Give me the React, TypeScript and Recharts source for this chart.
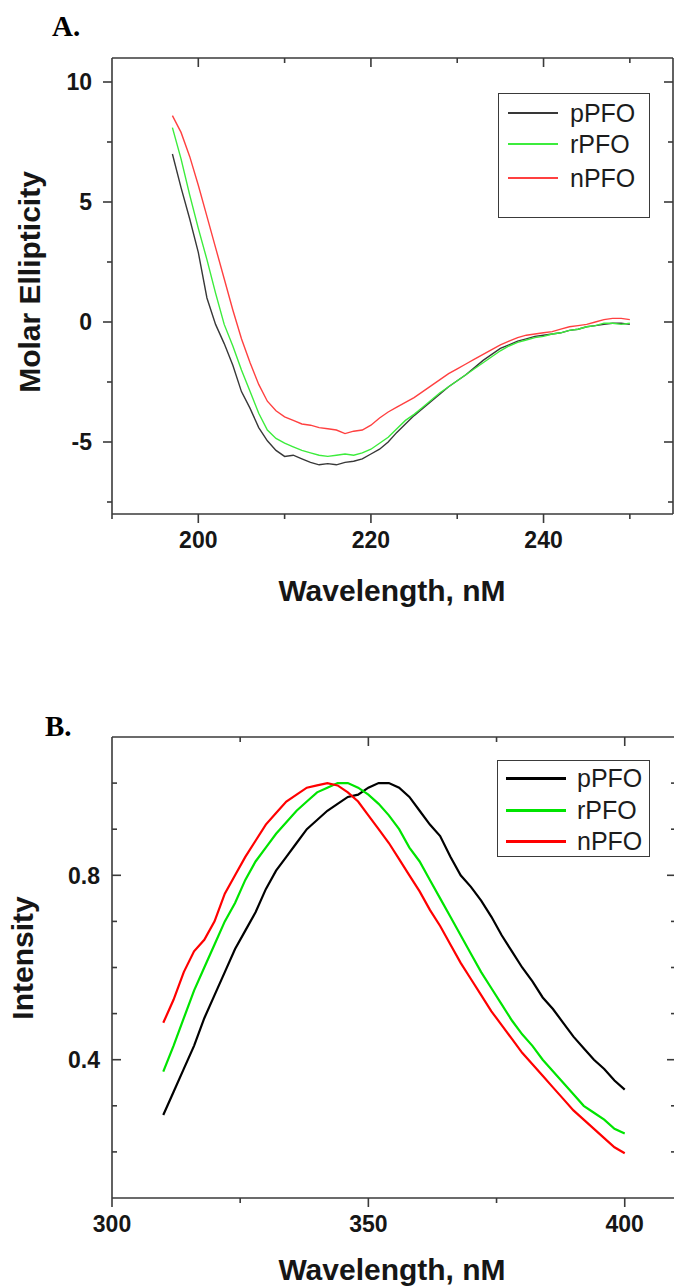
import React from 'react';
import { LineChart, Line, XAxis, YAxis, Legend } from 'recharts';

// ---------- Panel A: CD spectra ----------
const cdWavelengths = [197,198,199,200,201,202,203,204,205,206,207,208,209,210,211,212,213,214,215,216,217,218,219,220,221,222,223,224,225,226,227,228,229,230,231,232,233,234,235,236,237,238,239,240,241,242,243,244,245,246,247,248,249,250];
const cdPPFO = [7.0,5.6,4.3,2.9,1.0,-0.1,-0.9,-1.8,-2.9,-3.6,-4.4,-4.95,-5.35,-5.6,-5.55,-5.7,-5.85,-5.95,-5.9,-5.95,-5.85,-5.8,-5.7,-5.5,-5.3,-5.0,-4.6,-4.25,-3.9,-3.6,-3.3,-3.0,-2.7,-2.45,-2.2,-1.9,-1.6,-1.35,-1.1,-0.95,-0.8,-0.7,-0.6,-0.55,-0.5,-0.45,-0.35,-0.3,-0.2,-0.15,-0.1,-0.05,-0.05,-0.1];
const cdRPFO = [8.1,6.8,5.3,3.9,2.6,1.2,-0.1,-1.0,-2.0,-2.9,-3.8,-4.5,-4.85,-5.05,-5.2,-5.35,-5.45,-5.55,-5.6,-5.55,-5.5,-5.55,-5.45,-5.3,-5.05,-4.8,-4.45,-4.1,-3.85,-3.55,-3.25,-2.95,-2.7,-2.45,-2.2,-1.95,-1.7,-1.45,-1.2,-1.0,-0.85,-0.75,-0.65,-0.6,-0.5,-0.45,-0.35,-0.3,-0.2,-0.15,-0.05,-0.05,-0.1,-0.05];
const cdNPFO = [8.6,7.9,6.9,5.7,4.4,3.1,1.8,0.5,-0.7,-1.7,-2.6,-3.3,-3.7,-3.95,-4.1,-4.25,-4.3,-4.4,-4.45,-4.5,-4.65,-4.55,-4.5,-4.3,-4.0,-3.75,-3.55,-3.35,-3.15,-2.9,-2.65,-2.4,-2.15,-1.95,-1.75,-1.55,-1.35,-1.15,-0.95,-0.8,-0.65,-0.55,-0.5,-0.45,-0.4,-0.3,-0.2,-0.15,-0.1,0.0,0.1,0.15,0.15,0.1];
const cdXTicks = [190,200,210,220,230,240,250];
const cdXLabels = [200,220,240];
const cdYTicks = [-7.5,-5,-2.5,0,2.5,5,7.5,10];
const cdYLabels = [-5,0,5,10];

// ---------- Panel B: fluorescence spectra ----------
const flWavelengths = [310,312,314,316,318,320,322,324,326,328,330,332,334,336,338,340,342,344,346,348,350,352,354,356,358,360,362,364,366,368,370,372,374,376,378,380,382,384,386,388,390,392,394,396,398,400];
const flPPFO = [0.28,0.33,0.38,0.43,0.49,0.54,0.59,0.64,0.68,0.72,0.77,0.81,0.84,0.87,0.90,0.92,0.94,0.955,0.97,0.975,0.99,1.0,1.0,0.99,0.97,0.94,0.91,0.885,0.84,0.80,0.775,0.745,0.71,0.67,0.635,0.60,0.57,0.535,0.51,0.48,0.45,0.425,0.40,0.38,0.355,0.335];
const flRPFO = [0.374,0.43,0.49,0.55,0.60,0.65,0.70,0.74,0.79,0.83,0.86,0.89,0.915,0.94,0.96,0.98,0.99,1.0,1.0,0.99,0.975,0.955,0.93,0.90,0.86,0.83,0.79,0.75,0.71,0.67,0.63,0.59,0.555,0.52,0.485,0.455,0.43,0.40,0.375,0.35,0.325,0.30,0.285,0.27,0.25,0.24];
const flNPFO = [0.48,0.53,0.59,0.635,0.66,0.70,0.76,0.80,0.84,0.875,0.91,0.935,0.96,0.975,0.99,0.995,1.0,0.995,0.98,0.96,0.93,0.90,0.87,0.835,0.80,0.765,0.725,0.69,0.65,0.61,0.575,0.54,0.505,0.475,0.445,0.415,0.39,0.365,0.34,0.315,0.29,0.27,0.25,0.23,0.21,0.197];
const flXTicks = [300,325,350,375,400];
const flXLabels = [300,350,400];
const flYTicks = [0.2,0.3,0.4,0.5,0.6,0.7,0.8,0.9,1.0];
const flYLabels = [0.4,0.8];

const seriesNames = ['pPFO', 'rPFO', 'nPFO'];
const cdColors = ['#383838', '#3cec3c', '#ff4040'];
const flColors = ['#000000', '#00e400', '#ff0000'];

const cdData = cdWavelengths.map((w, i) => ({ w, p: cdPPFO[i], r: cdRPFO[i], n: cdNPFO[i] }));
const flData = flWavelengths.map((w, i) => ({ w, p: flPPFO[i], r: flRPFO[i], n: flNPFO[i] }));

const AXIS = '#3a3a3a';
const axisStyle = { stroke: AXIS, strokeWidth: 1.6 };
const SANS = '"Liberation Sans", Arial, Helvetica, sans-serif';
const SERIF = '"Liberation Serif", "Times New Roman", serif';

type Side = 'left' | 'right' | 'top' | 'bottom';

function makeTick(side: Side, labels: number[], outward: boolean, labelGap: number, fmt: (v: number) => string) {
  return function TickMark(props: any) {
    const { x, y, payload } = props;
    const v = Number(payload.value);
    const major = labels.some((l) => Math.abs(l - v) < 1e-9);
    const len = major ? 9 : 5;
    const s = outward ? 1 : -1;
    let x2 = x;
    let y2 = y;
    if (side === 'left') x2 = x - s * len;
    if (side === 'right') x2 = x + s * len;
    if (side === 'top') y2 = y - s * len;
    if (side === 'bottom') y2 = y + s * len;
    let label: React.ReactNode = null;
    if (major && labelGap > 0) {
      const common = {
        fontFamily: SANS,
        fontWeight: 700,
        fontSize: 23,
        fill: '#161616',
      };
      if (side === 'left') {
        label = (
          <text x={x - labelGap} y={y} dy="0.36em" textAnchor="end" {...common}>
            {fmt(v)}
          </text>
        );
      } else if (side === 'bottom') {
        label = (
          <text x={x} y={y + labelGap} dy="0.36em" textAnchor="middle" {...common}>
            {fmt(v)}
          </text>
        );
      }
    }
    return (
      <g>
        <line x1={x} y1={y} x2={x2} y2={y2} stroke={AXIS} strokeWidth={1.6} />
        {label}
      </g>
    );
  };
}

type LegendCfg = {
  w: number;
  h: number;
  rows: number[];
  lineX: number;
  lineLen: number;
  lineW: number;
  textX: number;
  fontSize: number;
};

function makeLegend(cfg: LegendCfg) {
  return function LegendBox(props: any) {
    const payload: any[] = props.payload || [];
    const items = seriesNames
      .map((n) => payload.find((p: any) => p.value === n))
      .filter(Boolean);
    return (
      <div
        style={{
          position: 'relative',
          boxSizing: 'border-box',
          width: cfg.w,
          height: cfg.h,
          border: `1.5px solid ${AXIS}`,
          background: '#fff',
        }}
      >
        {items.map((it: any, i: number) => (
          <React.Fragment key={it.value}>
            <div
              style={{
                position: 'absolute',
                left: cfg.lineX,
                top: cfg.rows[i] - cfg.lineW / 2,
                width: cfg.lineLen,
                height: cfg.lineW,
                background: it.color,
              }}
            />
            <div
              style={{
                position: 'absolute',
                left: cfg.textX,
                top: cfg.rows[i],
                transform: 'translateY(-50%)',
                fontFamily: SANS,
                fontSize: cfg.fontSize,
                lineHeight: 1,
                color: '#1c1c1c',
                whiteSpace: 'nowrap',
              }}
            >
              {it.value}
            </div>
          </React.Fragment>
        ))}
      </div>
    );
  };
}

const LegendA = makeLegend({ w: 152, h: 125, rows: [19, 50, 84], lineX: 9, lineLen: 50, lineW: 2, textX: 71, fontSize: 25 });
const LegendB = makeLegend({ w: 153, h: 97, rows: [17, 49, 80], lineX: 8, lineLen: 60, lineW: 3, textX: 79, fontSize: 25 });

const fmtInt = (v: number) => String(v);
const fmt1 = (v: number) => v.toFixed(1);

const titleStyle: React.CSSProperties = {
  position: 'absolute',
  fontFamily: SANS,
  fontWeight: 700,
  fontSize: 30,
  lineHeight: 1,
  color: '#161616',
  whiteSpace: 'nowrap',
  transform: 'translate(-50%, -50%)',
};

const rotTitleStyle: React.CSSProperties = {
  ...titleStyle,
  transform: 'translate(-50%, -50%) rotate(-90deg)',
};

const panelLetter: React.CSSProperties = {
  position: 'absolute',
  fontFamily: SERIF,
  fontWeight: 700,
  fontSize: 29,
  lineHeight: 1,
  color: '#000',
};

export default function App() {
  return (
    <div style={{ position: 'relative', width: 674, height: 1287, overflow: 'hidden', background: '#fff' }}>
      <style>{`html,body{margin:0;padding:0;overflow:hidden;background:#fff}`}</style>

      {/* Panel A */}
      <div style={{ position: 'absolute', left: 0, top: 0 }}>
        <LineChart width={690} height={640} data={cdData} margin={{ top: 48, right: 7, bottom: 86, left: 52 }}>
          <XAxis
            xAxisId="b"
            type="number"
            dataKey="w"
            domain={[190, 255]}
            ticks={cdXTicks}
            interval={0}
            allowDataOverflow
            height={40}
            tickSize={0}
            tickMargin={0}
            tickLine={false}
            axisLine={axisStyle}
            tick={makeTick('bottom', cdXLabels, true, 26, fmtInt)}
          />
          <XAxis
            xAxisId="t"
            orientation="top"
            type="number"
            dataKey="w"
            domain={[190, 255]}
            ticks={cdXTicks.filter((t) => t > 190)}
            interval={0}
            allowDataOverflow
            height={10}
            tickSize={0}
            tickMargin={0}
            tickLine={false}
            axisLine={axisStyle}
            tick={makeTick('top', cdXLabels, false, 0, fmtInt)}
          />
          <YAxis
            yAxisId="l"
            type="number"
            domain={[-8, 11]}
            ticks={cdYTicks}
            interval={0}
            allowDataOverflow
            width={60}
            tickSize={0}
            tickMargin={0}
            tickLine={false}
            axisLine={axisStyle}
            tick={makeTick('left', cdYLabels, true, 20, fmtInt)}
          />
          <YAxis
            yAxisId="r"
            orientation="right"
            type="number"
            domain={[-8, 11]}
            ticks={cdYTicks}
            interval={0}
            allowDataOverflow
            width={10}
            tickSize={0}
            tickMargin={0}
            tickLine={false}
            axisLine={axisStyle}
            tick={makeTick('right', cdYLabels, false, 0, fmtInt)}
          />
          <Line xAxisId="b" yAxisId="l" type="linear" dataKey="p" name={seriesNames[0]} stroke={cdColors[0]} strokeWidth={1.4} dot={false} activeDot={false} isAnimationActive={false} />
          <Line xAxisId="b" yAxisId="l" type="linear" dataKey="r" name={seriesNames[1]} stroke={cdColors[1]} strokeWidth={1.4} dot={false} activeDot={false} isAnimationActive={false} />
          <Line xAxisId="b" yAxisId="l" type="linear" dataKey="n" name={seriesNames[2]} stroke={cdColors[2]} strokeWidth={1.4} dot={false} activeDot={false} isAnimationActive={false} />
          <Legend
            layout="horizontal"
            verticalAlign="middle"
            align="center"
            content={LegendA}
            wrapperStyle={{ left: 498, top: 93, width: 152, height: 125 }}
          />
        </LineChart>
      </div>

      {/* Panel B */}
      <div style={{ position: 'absolute', left: 0, top: 680 }}>
        <LineChart width={690} height={607} data={flData} margin={{ top: 47, right: 4, bottom: 49, left: 52 }}>
          <XAxis
            xAxisId="b"
            type="number"
            dataKey="w"
            domain={[300, 410]}
            ticks={flXTicks}
            interval={0}
            allowDataOverflow
            height={40}
            tickSize={0}
            tickMargin={0}
            tickLine={false}
            axisLine={axisStyle}
            tick={makeTick('bottom', flXLabels, true, 26, fmtInt)}
          />
          <XAxis
            xAxisId="t"
            orientation="top"
            type="number"
            dataKey="w"
            domain={[300, 410]}
            ticks={flXTicks.filter((t) => t > 300)}
            interval={0}
            allowDataOverflow
            height={10}
            tickSize={0}
            tickMargin={0}
            tickLine={false}
            axisLine={axisStyle}
            tick={makeTick('top', flXLabels, false, 0, fmtInt)}
          />
          <YAxis
            yAxisId="l"
            type="number"
            domain={[0.1, 1.1]}
            ticks={flYTicks}
            interval={0}
            allowDataOverflow
            width={60}
            tickSize={0}
            tickMargin={0}
            tickLine={false}
            axisLine={axisStyle}
            tick={makeTick('left', flYLabels, false, 12, fmt1)}
          />
          <YAxis
            yAxisId="r"
            orientation="right"
            type="number"
            domain={[0.1, 1.1]}
            ticks={flYTicks}
            interval={0}
            allowDataOverflow
            width={10}
            tickSize={0}
            tickMargin={0}
            tickLine={false}
            axisLine={axisStyle}
            tick={makeTick('right', flYLabels, false, 0, fmt1)}
          />
          <Line xAxisId="b" yAxisId="l" type="linear" dataKey="p" name={seriesNames[0]} stroke={flColors[0]} strokeWidth={2.2} dot={false} activeDot={false} isAnimationActive={false} />
          <Line xAxisId="b" yAxisId="l" type="linear" dataKey="r" name={seriesNames[1]} stroke={flColors[1]} strokeWidth={2.2} dot={false} activeDot={false} isAnimationActive={false} />
          <Line xAxisId="b" yAxisId="l" type="linear" dataKey="n" name={seriesNames[2]} stroke={flColors[2]} strokeWidth={2.2} dot={false} activeDot={false} isAnimationActive={false} />
          <Legend
            layout="horizontal"
            verticalAlign="middle"
            align="center"
            content={LegendB}
            wrapperStyle={{ left: 497, top: 80, width: 153, height: 97 }}
          />
        </LineChart>
      </div>

      {/* Panel letters and axis titles */}
      <div style={{ ...panelLetter, left: 52, top: 12 }}>A.</div>
      <div style={{ ...panelLetter, left: 45, top: 712 }}>B.</div>
      <div style={{ ...rotTitleStyle, left: 30, top: 282 }}>Molar Ellipticity</div>
      <div style={{ ...titleStyle, left: 392, top: 591 }}>Wavelength, nM</div>
      <div style={{ ...rotTitleStyle, left: 23, top: 958 }}>Intensity</div>
      <div style={{ ...titleStyle, left: 392, top: 1270 }}>Wavelength, nM</div>
    </div>
  );
}
